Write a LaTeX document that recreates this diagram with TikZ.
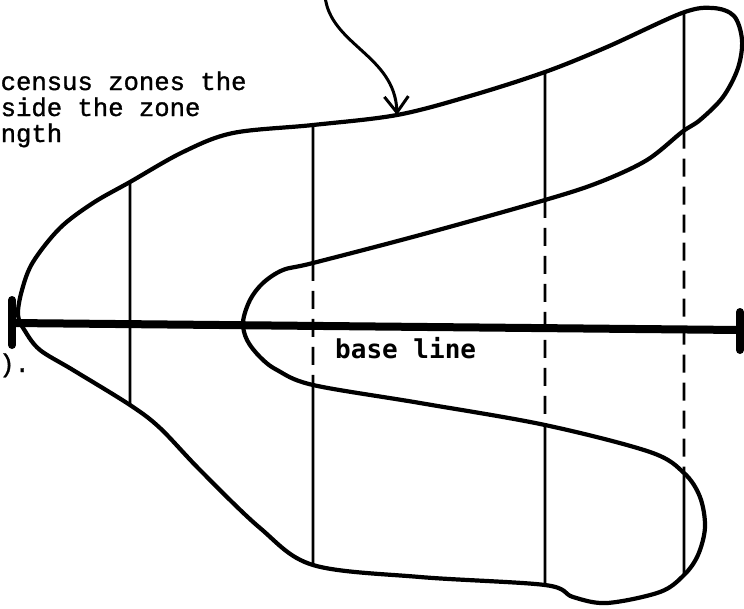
\documentclass[tikz,border=0pt]{standalone}
\usepackage{fontspec}
\usetikzlibrary{intersections,arrows.meta}
\newfontfamily\twfont{Liberation Mono}[FakeBold=1.2]
\newfontfamily\labfont{DejaVu Sans Mono}
\begin{document}
\begin{tikzpicture}[x=1pt,y=-1pt,
  outline/.style={line width=4.2pt, line join=round},
  zoneline/.style={line width=2.6pt},
  zonedash/.style={line width=2.6pt, dash pattern=on 18pt off 10pt},
  baseln/.style={line width=8pt},
  endbar/.style={line width=8pt, line cap=round},
  pointer/.style={line width=3pt, -{Straight Barb[length=16pt,width=24pt,line width=3pt]}},
  txt/.style={inner sep=0pt, anchor=base west, font=\twfont\fontsize{25.6}{30}\selectfont},
  lab/.style={inner sep=0pt, anchor=base west, font=\labfont\bfseries\fontsize{26}{30}\selectfont}]
\useasboundingbox (0,0) rectangle (744,608);
\begin{scope}
\clip (0,0) rectangle (744,608);
% texts
\node[txt] (t1) at (0.5,90) {census zones the};
\node[txt] (t2) at (0.5,116) {side the zone};
\node[txt] (t3) at (0.5,142) {ngth};
\node[txt] (t4) at (-1,372) {).};
% outline
\draw[outline, name path=outline] plot[smooth cycle, tension=0.55] coordinates {
 (18,315) (22,290) (33,262) (60,228) (93,203) (130,182) (183,152) (233,133)
 (313,125) (397,115) (470,96) (545,72) (607,47) (682,13) (713,8) (734,16)
 (742,40) (738,68) (723,97) (700,120) (682,132) (647,160) (600,182) (545,200)
 (420,235) (313,263) (283,270) (263,283) (250,300) (243,322) (247,340) (260,357)
 (277,370) (313,385) (420,403) (545,425) (650,452) (684,473) (700,497) (705,527)
 (698,555) (684,575) (660,592) (607,603) (573,597) (545,585) (420,577) (313,565)
 (260,528) (200,470) (160,428) (130,405) (73,370) (40,350) (25,331)};
% zone lines
\path[name path=va] (130,-10) -- (130,620);
\path[name path=vb] (313,-10) -- (313,620);
\path[name path=vc] (545,-10) -- (545,620);
\path[name path=vd] (684,-10) -- (684,620);
\path[name intersections={of=outline and va, sort by=va, name=ia}];
\path[name intersections={of=outline and vb, sort by=vb, name=ib}];
\path[name intersections={of=outline and vc, sort by=vc, name=ic}];
\path[name intersections={of=outline and vd, sort by=vd, name=id}];
\draw[zoneline] (ia-1) -- (ia-2);
\draw[zoneline] (ib-1) -- (ib-2);
\draw[zonedash] (ib-2) -- (ib-3);
\draw[zoneline] (ib-3) -- (ib-4);
\draw[zoneline] (ic-1) -- (ic-2);
\draw[zonedash] (ic-2) -- (ic-3);
\draw[zoneline] (ic-3) -- (ic-4);
\draw[zoneline] (id-1) -- (id-2);
\draw[zonedash] (id-2) -- (id-3);
\draw[zoneline] (id-3) -- (id-4);
% base line
\coordinate (lb) at (12,323);
\coordinate (rb) at (740,330);
\coordinate (lbt) at (12,300);
\coordinate (lbb) at (12,345);
\coordinate (rbt) at (740,312);
\coordinate (rbb) at (740,350);
\draw[baseln] (lb) -- (rb);
\draw[endbar] (lbt) -- (lbb);
\draw[endbar] (rbt) -- (rbb);
\node[lab] (bl) at (335,358) {base line};
% pointer arrow
\coordinate (as) at (325,-4);
\coordinate (ae) at (397,115);
\draw[pointer] (as) .. controls (330,45) and (395,55) .. (ae);
\end{scope}
\end{tikzpicture}
\end{document}
